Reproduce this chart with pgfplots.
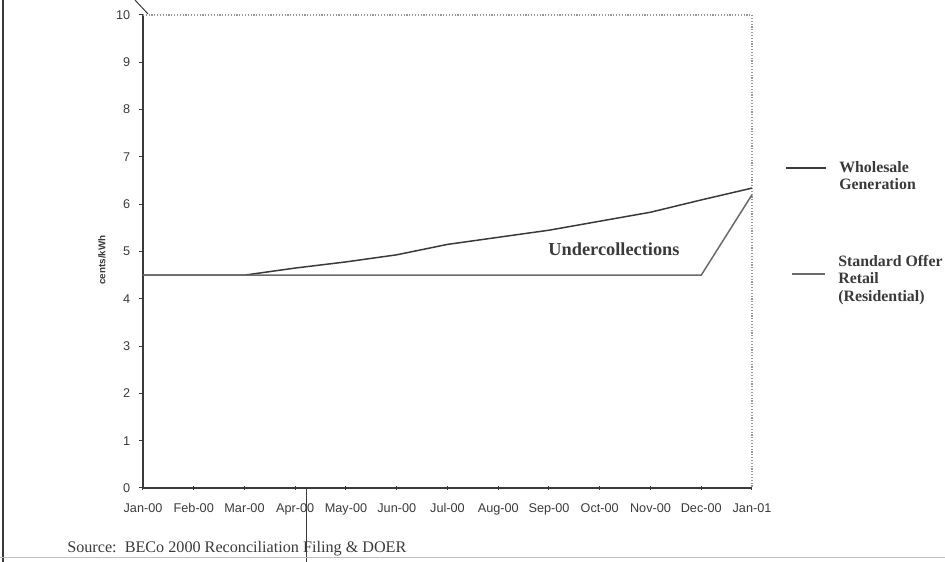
\documentclass[border=0pt]{standalone}
\usepackage{pgfplots}
\pgfplotsset{compat=1.18}
\usepackage{fontspec}
\setmainfont{Liberation Serif}
\setsansfont{Liberation Sans}
\definecolor{ink}{HTML}{3A3A3A}
\definecolor{retail}{HTML}{6A6A6A}
\begin{document}
\begin{tikzpicture}[x=0.6pt,y=0.6pt]
\path[use as bounding box] (0,0) rectangle (945,562);
\begin{axis}[
  at={(85.8pt,44.4pt)}, anchor=south west,
  scale only axis, width=365.4pt, height=283.8pt,
  xmin=0, xmax=12, ymin=0, ymax=10,
  axis x line*=bottom, axis y line*=left,
  axis line style={ink, line width=0.7pt, -},
  xtick={0,...,12},
  xticklabels={Jan-00,Feb-00,Mar-00,Apr-00,May-00,Jun-00,Jul-00,Aug-00,Sep-00,Oct-00,Nov-00,Dec-00,Jan-01},
  ytick={0,...,10},
  tick style={ink, line width=0.6pt},
  major tick length=2.6pt,
  xtick align=center, ytick align=outside,
  /pgf/number format/assume math mode=true,
  tick label style={font=\sffamily\fontsize{7.6}{8}\selectfont, text=ink},
  xticklabel style={yshift=-3pt, text height=1.5ex, text depth=0.25ex},
  yticklabel style={xshift=-1.5pt},
  clip=false,
]
\draw[retail!70, densely dotted, line width=0.7pt] (rel axis cs:0,1) -- (rel axis cs:1,1) -- (rel axis cs:1,0);
\addplot[ink, line width=0.9pt] coordinates {
 (0,4.5) (1,4.5) (2,4.5) (3,4.65) (4,4.78) (5,4.93) (6,5.15) (7,5.3) (8,5.45) (9,5.64) (10,5.83) (11,6.09) (12,6.34)};
\addplot[retail, line width=0.9pt] coordinates {
 (0,4.5) (1,4.5) (2,4.5) (3,4.5) (4,4.5) (5,4.5) (6,4.5) (7,4.5) (8,4.5) (9,4.5) (10,4.5) (11,4.5) (12,6.2)};
\end{axis}
% y label
\node[rotate=90, font=\sffamily\bfseries\fontsize{5.9}{6}\selectfont, text=ink] at (102,302) {cents/kWh};
% annotation
\node[font=\bfseries\fontsize{11}{12}\selectfont, text=ink] at (614,313) {Undercollections};
% legend
\draw[ink, line width=0.8pt] (786,394) -- (826,394);
\node[anchor=north west, align=left, font=\bfseries\fontsize{9.5}{10.5}\selectfont, text=ink, inner sep=0pt] at (839,401) {Wholesale\\Generation};
\draw[retail, line width=0.8pt] (792,288) -- (825,288);
\node[anchor=north west, align=left, font=\bfseries\fontsize{9.5}{10.5}\selectfont, text=ink, inner sep=0pt] at (838,307) {Standard Offer\\Retail\\(Residential)};
% source
\node[anchor=base west, font=\fontsize{9.7}{11}\selectfont, text=ink, inner sep=0pt] at (67,9) {Source:\ \ BECo 2000 Reconciliation Filing \& DOER};
% scan artefacts (page edge, fold lines)
\draw[ink, line width=0.8pt] (3,0) -- (3,562);
\draw[ink, line width=0.6pt] (306,74) -- (306,0);
\draw[ink, line width=0.6pt] (135,562) -- (148,548);
\draw[gray!50, line width=0.6pt] (0,4) -- (945,4);
\end{tikzpicture}
\end{document}
